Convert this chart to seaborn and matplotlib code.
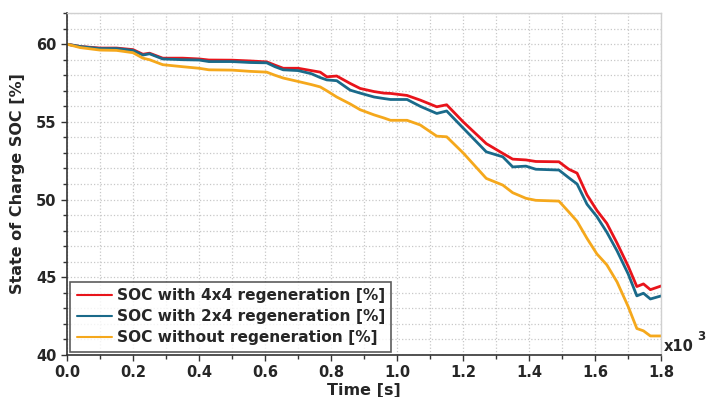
import pandas as pd
import seaborn as sns
import matplotlib.pyplot as plt
from matplotlib.ticker import MultipleLocator

# time in seconds
time_s = [0, 40, 100, 150, 200, 230, 250, 290, 350, 400, 430, 500, 555, 605, 630, 655,
          700, 740, 767, 787, 817, 858, 888, 930, 960, 980, 1030, 1070, 1120, 1150, 1200,
          1270, 1320, 1350, 1390, 1420, 1490, 1520, 1545, 1575, 1605, 1635, 1666, 1700,
          1726, 1746, 1767, 1800]

soc_4x4 = [60.0, 59.85, 59.75, 59.75, 59.65, 59.35, 59.42, 59.1, 59.1, 59.05, 58.98, 58.97,
           58.92, 58.86, 58.65, 58.45, 58.45, 58.3, 58.2, 57.9, 57.95, 57.47, 57.15, 56.95,
           56.85, 56.83, 56.7, 56.4, 55.97, 56.1, 55.0, 53.6, 52.97, 52.6, 52.55, 52.45,
           52.43, 51.95, 51.7, 50.3, 49.3, 48.47, 47.2, 45.7, 44.4, 44.57, 44.2, 44.44]

soc_2x4 = [60.0, 59.85, 59.72, 59.72, 59.6, 59.3, 59.38, 59.05, 59.0, 58.98, 58.88, 58.88,
           58.82, 58.8, 58.55, 58.35, 58.3, 58.1, 57.85, 57.7, 57.65, 57.04, 56.85, 56.6,
           56.5, 56.44, 56.44, 56.0, 55.54, 55.7, 54.6, 53.07, 52.75, 52.1, 52.15, 51.95,
           51.9, 51.4, 51.0, 49.7, 48.9, 47.9, 46.7, 45.2, 43.8, 43.97, 43.6, 43.8]

soc_noregen = [60.0, 59.78, 59.62, 59.6, 59.45, 59.1, 59.0, 58.68, 58.55, 58.45, 58.35, 58.33,
               58.25, 58.2, 58.0, 57.82, 57.6, 57.4, 57.25, 57.0, 56.6, 56.15, 55.78, 55.45,
               55.25, 55.1, 55.1, 54.8, 54.08, 54.04, 53.0, 51.36, 50.93, 50.44, 50.08, 49.95,
               49.9, 49.2, 48.6, 47.5, 46.5, 45.8, 44.7, 43.1, 41.7, 41.55, 41.22, 41.22]

labels = ["SOC with 4x4 regeneration [%]", "SOC with 2x4 regeneration [%]",
          "SOC without regeneration [%]"]
colors = ["#e8141b", "#1a6a8a", "#f5a81c"]

df = pd.DataFrame({"t": [t / 1000 for t in time_s] * 3,
                   "soc": soc_4x4 + soc_2x4 + soc_noregen,
                   "series": [labels[0]] * len(time_s) + [labels[1]] * len(time_s)
                             + [labels[2]] * len(time_s)})

sns.set_style("white")
plt.rcParams["font.family"] = ["DejaVu Sans"]
plt.rcParams["font.weight"] = "bold"

fig = plt.figure(figsize=(7.08, 3.97), dpi=100)
ax = fig.add_axes([0.0946, 0.106, 0.8394, 0.861])

sns.lineplot(data=df, x="t", y="soc", hue="series", palette=colors, linewidth=2.0, ax=ax)

ax.set_xlim(0, 1.8)
ax.set_ylim(40, 62)
ax.xaxis.set_major_locator(MultipleLocator(0.2))
ax.xaxis.set_minor_locator(MultipleLocator(0.1))
ax.yaxis.set_major_locator(MultipleLocator(5))
ax.yaxis.set_minor_locator(MultipleLocator(1))
ax.xaxis.set_major_formatter(lambda v, p: f"{v:.1f}")
ax.grid(which="both", linestyle=":", color="#c8c8c8", linewidth=0.9)
ax.tick_params(which="both", direction="out", length=4, width=1, color="#333333",
               left=True, bottom=True, labelsize=10.5)
ax.tick_params(which="minor", length=3)
for lbl in ax.get_xticklabels() + ax.get_yticklabels():
    lbl.set_fontweight("bold")

for s in ["left", "bottom"]:
    ax.spines[s].set_color("#333333")
    ax.spines[s].set_linewidth(1.2)
for s in ["top", "right"]:
    ax.spines[s].set_color("#d0d0d0")
    ax.spines[s].set_linewidth(1.0)

ax.set_xlabel("Time [s]", fontsize=11.5, fontweight="bold", labelpad=2)
ax.set_ylabel("State of Charge SOC [%]", fontsize=11.5, fontweight="bold", labelpad=8)
ax.text(1.005, 0.01, "x10", transform=ax.transAxes, fontsize=10.5,
        fontweight="bold", ha="left", va="baseline")
ax.text(1.060, 0.045, "3", transform=ax.transAxes, fontsize=8.5,
        fontweight="bold", ha="left", va="baseline")

leg = ax.legend(loc="lower left", frameon=True, fancybox=False, fontsize=11.1,
                borderaxespad=0.2, handlelength=2.3, handletextpad=0.3,
                labelspacing=0.4, borderpad=0.42)
leg.get_frame().set_edgecolor("#333333")
leg.get_frame().set_linewidth(1.2)
for t in leg.get_texts():
    t.set_fontweight("bold")
for h in leg.get_lines():
    h.set_linewidth(1.5)

fig.savefig("out.png", dpi=100)
